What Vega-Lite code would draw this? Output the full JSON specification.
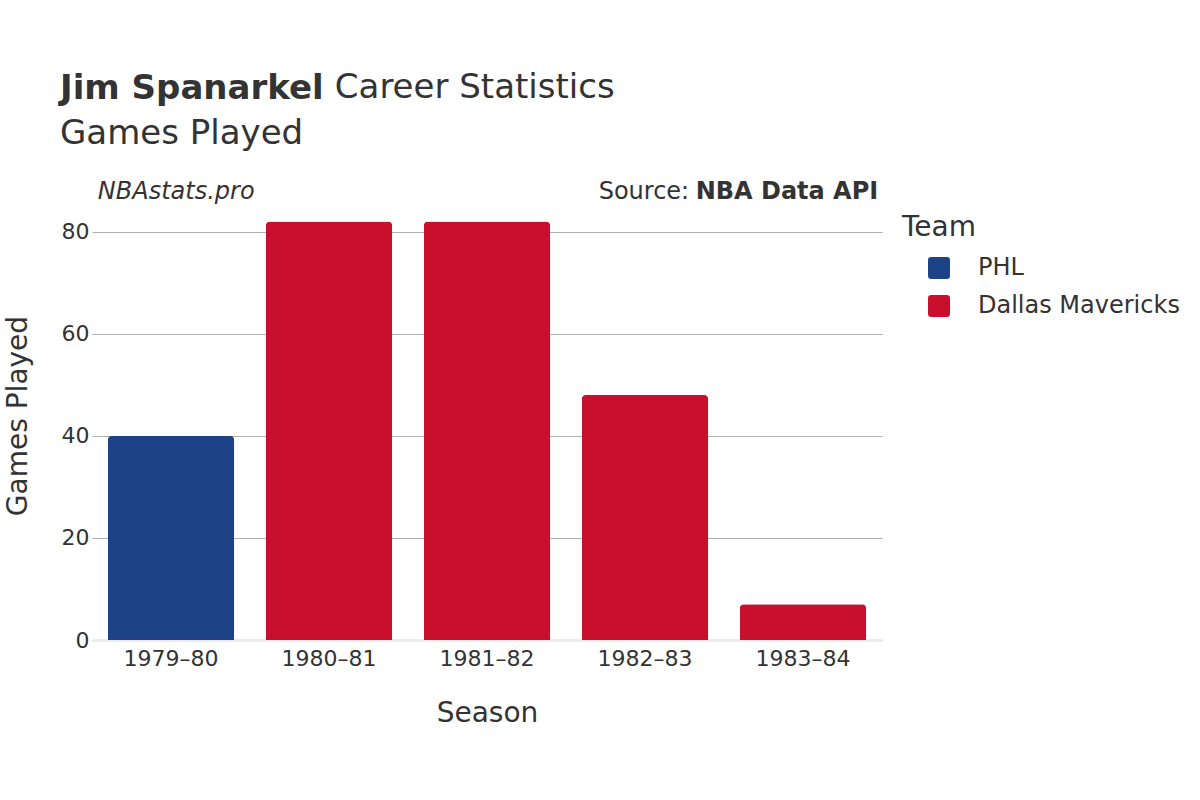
{
  "$schema": "https://vega.github.io/schema/vega-lite/v6.json",
  "autosize": {"type": "none"},
  "width": 790,
  "height": 449,
  "padding": {"left": 92, "top": 191, "right": 318, "bottom": 160},
  "background": "white",
  "config": {
    "font": "DejaVu Sans",
    "view": {"stroke": null}
  },
  "title": {
    "text": "Jim Spanarkel",
    "subtitle": "Games Played",
    "anchor": "start",
    "frame": "group",
    "orient": "top",
    "dx": -32,
    "offset": -80,
    "fontSize": 34,
    "fontWeight": "bold",
    "subtitleFontSize": 34,
    "subtitleFontWeight": "normal",
    "subtitlePadding": 11,
    "color": "#333333",
    "subtitleColor": "#333333",
    "font": "DejaVu Sans",
    "subtitleFont": "DejaVu Sans"
  },
  "datasets": {
    "games": [
      {"Season": "1979–80", "Team": "PHL", "Games": 40},
      {"Season": "1980–81", "Team": "Dallas Mavericks", "Games": 82},
      {"Season": "1981–82", "Team": "Dallas Mavericks", "Games": 82},
      {"Season": "1982–83", "Team": "Dallas Mavericks", "Games": 48},
      {"Season": "1983–84", "Team": "Dallas Mavericks", "Games": 7}
    ],
    "notes": [
      {"Season": "1979–80", "y": 87.8, "label": "NBAstats.pro"}
    ],
    "source": [
      {"Season": "1983–84", "y": 87.8, "label": "NBA Data API"}
    ],
    "heading": [
      {"Season": "1979–80", "y": 108.2, "label": "Career Statistics"}
    ]
  },
  "layer": [
    {
      "data": {"name": "games"},
      "mark": {"type": "bar", "cornerRadiusTopLeft": 4, "cornerRadiusTopRight": 4},
      "encoding": {
        "x": {
          "field": "Season",
          "type": "nominal",
          "sort": null,
          "scale": {"paddingInner": 0.2, "paddingOuter": 0.1},
          "axis": {
            "title": "Season",
            "titleFontSize": 28,
            "titleFontWeight": "normal",
            "titleColor": "#333333",
            "titlePadding": 30,
            "labelFontSize": 22,
            "labelColor": "#333333",
            "labelAngle": 0,
            "labelPadding": 8,
            "ticks": false,
            "domain": true,
            "domainColor": "#ebebeb",
            "domainWidth": 3,
            "grid": false
          }
        },
        "y": {
          "field": "Games",
          "type": "quantitative",
          "scale": {"domain": [0, 88], "nice": false},
          "axis": {
            "title": "Games Played",
            "values": [0, 20, 40, 60, 80],
            "titleFontSize": 28,
            "titleFontWeight": "normal",
            "titleColor": "#333333",
            "titlePadding": 29,
            "labelFontSize": 22,
            "labelColor": "#333333",
            "labelPadding": 3,
            "ticks": false,
            "domain": false,
            "grid": true,
            "gridColor": "#b0b0b0",
            "gridWidth": 1.2
          }
        },
        "color": {
          "field": "Team",
          "type": "nominal",
          "scale": {"domain": ["PHL", "Dallas Mavericks"], "range": ["#1D4288", "#C8102E"]},
          "legend": {
            "title": "Team",
            "orient": "none",
            "legendX": 810,
            "legendY": 23,
            "titleFontSize": 28,
            "titleFontWeight": "normal",
            "titleColor": "#333333",
            "titlePadding": 14,
            "labelFontSize": 24,
            "labelColor": "#333333",
            "labelLimit": 400,
            "labelOffset": 27,
            "symbolOffset": 25,
            "symbolType": "M-0.7,-1H0.7Q1,-1,1,-0.7V0.7Q1,1,0.7,1H-0.7Q-1,1,-1,0.7V-0.7Q-1,-1,-0.7,-1Z",
            "symbolSize": 484,
            "symbolStrokeWidth": 0,
            "rowPadding": 14
          }
        }
      }
    },
    {
      "data": {"name": "heading"},
      "mark": {"type": "text", "align": "left", "baseline": "middle", "fontSize": 34, "color": "#333333", "dx": 227},
      "encoding": {
        "x": {"field": "Season", "type": "nominal", "bandPosition": 0, "sort": null},
        "y": {"field": "y", "type": "quantitative"},
        "text": {"field": "label"}
      }
    },
    {
      "data": {"name": "notes"},
      "mark": {"type": "text", "align": "left", "baseline": "middle", "fontStyle": "italic", "fontSize": 24, "color": "#333333", "dx": -10},
      "encoding": {
        "x": {"field": "Season", "type": "nominal", "bandPosition": 0, "sort": null},
        "y": {"field": "y", "type": "quantitative"},
        "text": {"field": "label"}
      }
    },
    {
      "data": {"name": "source"},
      "mark": {"type": "text", "align": "right", "baseline": "middle", "fontWeight": "bold", "fontSize": 24, "color": "#333333", "dx": 12},
      "encoding": {
        "x": {"field": "Season", "type": "nominal", "bandPosition": 1, "sort": null},
        "y": {"field": "y", "type": "quantitative"},
        "text": {"field": "label"}
      }
    },
    {
      "data": {"name": "source"},
      "mark": {"type": "text", "align": "right", "baseline": "middle", "fontSize": 24, "color": "#333333", "dx": -177},
      "encoding": {
        "x": {"field": "Season", "type": "nominal", "bandPosition": 1, "sort": null},
        "y": {"field": "y", "type": "quantitative"},
        "text": {"value": "Source:"}
      }
    }
  ]
}
